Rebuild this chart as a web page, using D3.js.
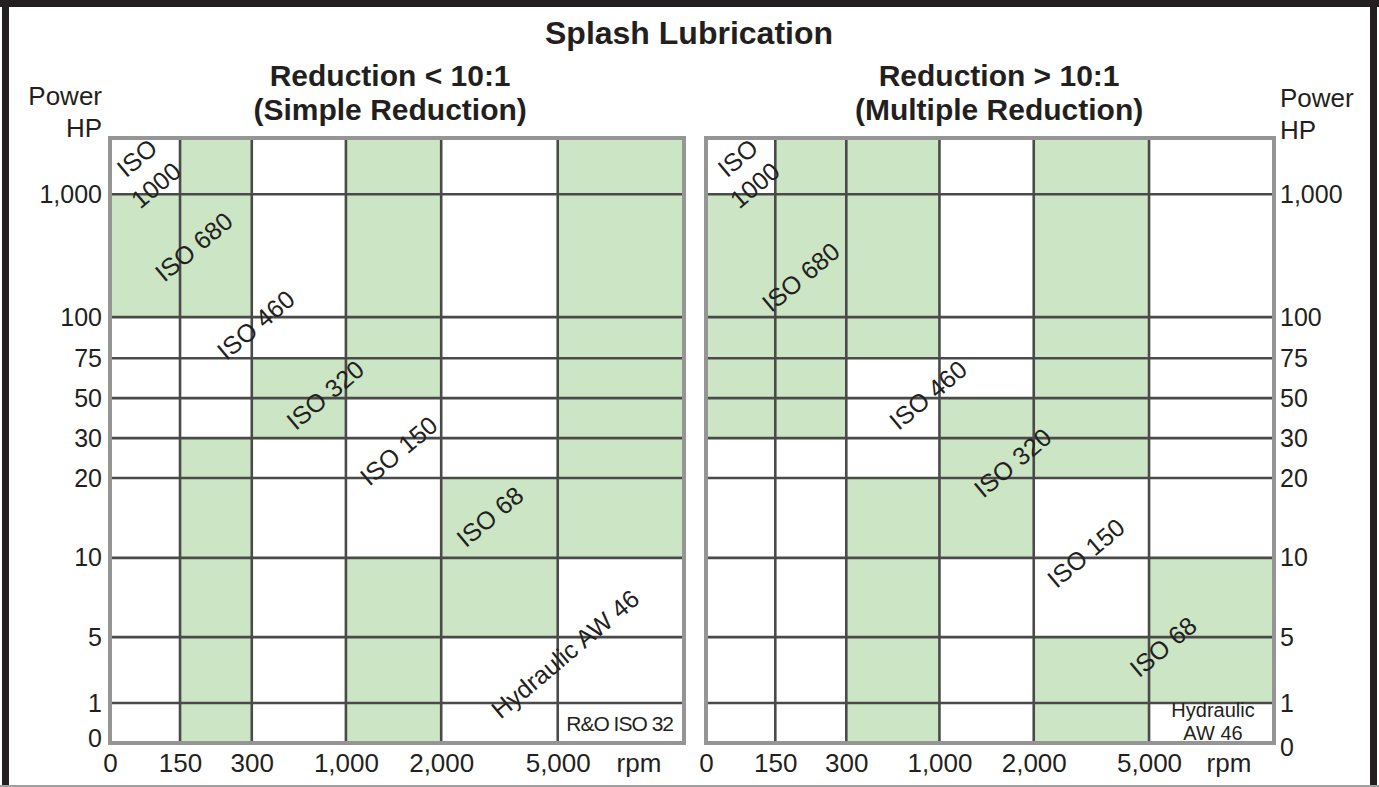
<!DOCTYPE html>
<html>
<head>
<meta charset="utf-8">
<script src="https://cdn.jsdelivr.net/npm/d3@7"></script>
<style>
  body { margin: 0; background: #fff; }
  svg { display: block; }
</style>
</head>
<body>
<svg width="1379" height="787"></svg>
<script>

let rpm_ticks = [0, 150, 300, 1000, 2000, 5000],
  rpm_labels = ["0", "150", "300", "1,000", "2,000", "5,000"],
  rpm_max = 10000,
  hp_ticks = [0, 1, 5, 10, 20, 30, 50, 75, 100, 1000],
  hp_labels = ["0", "1", "5", "10", "20", "30", "50", "75", "100", "1,000"],
  hp_max = 5000

// 1 = green cell. rows run from the top (above 1,000 HP) down to 0-1 HP,
// columns from 0-150 rpm to 5,000+ rpm
let simple_cells = [
  [0, 1, 0, 1, 0, 1],
  [1, 1, 0, 1, 0, 1],
  [0, 0, 0, 1, 0, 1],
  [0, 0, 1, 1, 0, 1],
  [0, 0, 1, 0, 0, 1],
  [0, 1, 0, 0, 0, 1],
  [0, 1, 0, 0, 1, 1],
  [0, 1, 0, 1, 1, 0],
  [0, 1, 0, 1, 0, 0],
  [0, 1, 0, 1, 0, 0]
]
let multiple_cells = [
  [0, 1, 1, 0, 1, 0],
  [1, 1, 1, 0, 1, 0],
  [1, 1, 1, 0, 1, 0],
  [1, 1, 0, 0, 1, 0],
  [1, 1, 0, 1, 1, 0],
  [0, 0, 0, 1, 1, 0],
  [0, 0, 1, 1, 0, 0],
  [0, 0, 1, 0, 0, 1],
  [0, 0, 1, 0, 1, 1],
  [0, 0, 1, 0, 1, 0]
]

let chart_title = "Splash Lubrication",
  simple_title = ["Reduction < 10:1", "(Simple Reduction)"],
  multiple_title = ["Reduction > 10:1", "(Multiple Reduction)"],
  simple_grades = ["ISO", "1000", "ISO 680", "ISO 460", "ISO 320", "ISO 150", "ISO 68", "Hydraulic AW 46"],
  multiple_grades = ["ISO", "1000", "ISO 680", "ISO 460", "ISO 320", "ISO 150", "ISO 68"],
  simple_note = ["R&O ISO 32"],
  multiple_note = ["Hydraulic", "AW 46"]

// layout: where the grid lines fall inside a panel (fractions), and label spots
const font = "'Liberation Sans', Arial, Helvetica, sans-serif",
  ink = "#231f20",
  green = "#cce5c4",
  plot_top = 138,
  plot_bottom = 743,
  x_frac = [0, .122, .247, .411, .577, .780, 1],
  y_frac = [0, .066, .175, .306, .438, .504, .570, .636, .704, .907, 1]

let simple_spots = [[.047, .033], [.080, .078], [.146, .180], [.254, .309], [.375, .425], [.503, .517], [.662, .626], [.793, .853]],
  multiple_spots = [[.056, .033], [.086, .078], [.167, .230], [.391, .425], [.540, .537], [.669, .686], [.805, .841]]

let svg = d3.select("svg").attr("font-family", font)

function draw_frame() {
  svg.append("rect").attr("x", 0).attr("y", 0).attr("width", 1379).attr("height", 7).attr("fill", ink)
  svg.append("rect").attr("x", 2).attr("y", 0).attr("width", 7).attr("height", 785).attr("fill", ink)
  svg.append("rect").attr("x", 1370).attr("y", 0).attr("width", 7).attr("height", 785).attr("fill", ink)
  svg.append("line").attr("x1", 0).attr("x2", 1379).attr("y1", 786).attr("y2", 786)
    .attr("stroke", "#a0a0a0").attr("stroke-width", 2)

  svg.append("text")
    .attr("x", 689).attr("y", 44)
    .attr("text-anchor", "middle")
    .attr("font-size", 32).attr("font-weight", "bold").attr("fill", ink)
    .text(chart_title)
}

function draw_panel(p) {
  let rpm_edges = rpm_ticks.concat(rpm_max),
    hp_edges = hp_ticks.concat(hp_max),
    n = hp_edges.length,
    w = p.right - p.left,
    h = plot_bottom - plot_top

  let x = d3.scaleLinear().domain(rpm_edges).range(x_frac.map(f => p.left + f * w)),
    y = d3.scaleLinear().domain(hp_edges).range(y_frac.map(f => plot_bottom - f * h))

  let g = svg.append("g")

  // subtitle, two lines
  g.append("text")
    .attr("x", p.left + p.title_frac * w)
    .attr("text-anchor", "middle")
    .attr("font-size", 30).attr("font-weight", "bold").attr("fill", ink)
    .selectAll("tspan")
    .data(p.title).enter()
    .append("tspan")
    .attr("x", p.left + p.title_frac * w)
    .attr("y", (d, i) => 86 + i * 34)
    .text(d => d)

  // cells
  let cells = []
  p.cells.forEach((row, i) => row.forEach((v, j) => cells.push({ i: i, j: j, v: v })))
  g.selectAll("rect.cell")
    .data(cells).enter()
    .append("rect")
    .attr("class", "cell")
    .attr("x", d => x(rpm_edges[d.j]))
    .attr("width", d => x(rpm_edges[d.j + 1]) - x(rpm_edges[d.j]))
    .attr("y", d => y(hp_edges[n - 1 - d.i]))
    .attr("height", d => y(hp_edges[n - 2 - d.i]) - y(hp_edges[n - 1 - d.i]))
    .attr("fill", d => d.v ? green : "#fff")

  // grid
  g.selectAll("line.v")
    .data(rpm_ticks.slice(1)).enter()
    .append("line")
    .attr("x1", d => x(d)).attr("x2", d => x(d))
    .attr("y1", plot_top).attr("y2", plot_bottom)
    .attr("stroke", "#4a4a4a").attr("stroke-width", 2.6)
  g.selectAll("line.h")
    .data(hp_ticks.slice(1)).enter()
    .append("line")
    .attr("x1", p.left).attr("x2", p.right)
    .attr("y1", d => y(d)).attr("y2", d => y(d))
    .attr("stroke", "#4a4a4a").attr("stroke-width", 2.6)
  g.append("rect")
    .attr("x", p.left).attr("y", plot_top)
    .attr("width", w).attr("height", h)
    .attr("fill", "none").attr("stroke", "#959595").attr("stroke-width", 4)

  // grade labels along the diagonal
  g.selectAll("text.grade")
    .data(p.grades).enter()
    .append("text")
    .attr("class", "grade")
    .attr("transform", (d, i) => `translate(${p.left + p.spots[i][0] * w},${plot_top + p.spots[i][1] * h}) rotate(-40)`)
    .attr("text-anchor", "middle")
    .attr("dy", "0.35em")
    .attr("font-size", 25).attr("fill", ink)
    .text(d => d)

  // power axis
  let y_axis = p.side == "left"
    ? d3.axisLeft(y) : d3.axisRight(y)
  let ya = g.append("g")
    .attr("transform", `translate(${p.side == "left" ? p.left - 8 : p.right + 6},0)`)
    .call(y_axis.tickValues(hp_ticks).tickFormat((d, i) => hp_labels[i]).tickSize(0).tickPadding(0))
    .attr("font-size", 25).attr("font-family", font).attr("color", ink)
  ya.select(".domain").remove()
  ya.selectAll("text").filter(d => d == 0)
    .attr("dy", p.side == "left" ? "0.12em" : "0.48em")

  g.append("text")
    .attr("text-anchor", p.side == "left" ? "end" : "start")
    .attr("font-size", 26).attr("fill", ink)
    .selectAll("tspan")
    .data(["Power", "HP"]).enter()
    .append("tspan")
    .attr("x", p.side == "left" ? p.left - 8 : p.right + 6)
    .attr("y", (d, i) => (p.side == "left" ? 105 : 107) + i * 32)
    .text(d => d)

  // rpm axis
  let xa = g.append("g")
    .attr("transform", `translate(0,755)`)
    .call(d3.axisBottom(x).tickValues(rpm_ticks).tickFormat((d, i) => rpm_labels[i]).tickSize(0).tickPadding(0))
    .attr("font-size", 26).attr("font-family", font).attr("color", ink)
  xa.select(".domain").remove()
  xa.selectAll("text").attr("dy", "0.66em")

  g.append("text")
    .attr("x", p.right - 45).attr("y", 772)
    .attr("text-anchor", "middle")
    .attr("font-size", 26).attr("fill", ink)
    .text("rpm")

  // lowest-power note in the corner cell
  if (p.side == "left") {
    g.append("text")
      .attr("x", p.right - 11).attr("y", plot_bottom - 12)
      .attr("text-anchor", "end")
      .attr("font-size", 21).attr("letter-spacing", -1).attr("fill", ink)
      .text(p.note[0])
  } else {
    g.append("text")
      .attr("text-anchor", "middle")
      .attr("font-size", 20).attr("fill", ink)
      .selectAll("tspan")
      .data(p.note).enter()
      .append("tspan")
      .attr("x", p.right - 61)
      .attr("y", (d, i) => plot_bottom - 26 + i * 23)
      .text(d => d)
  }
}

draw_frame()
draw_panel({ left: 110, right: 684, side: "left", title_frac: .488, title: simple_title,
  cells: simple_cells, grades: simple_grades, spots: simple_spots, note: simple_note })
draw_panel({ left: 706, right: 1274, side: "right", title_frac: .516, title: multiple_title,
  cells: multiple_cells, grades: multiple_grades, spots: multiple_spots, note: multiple_note })

</script>
</body>
</html>
